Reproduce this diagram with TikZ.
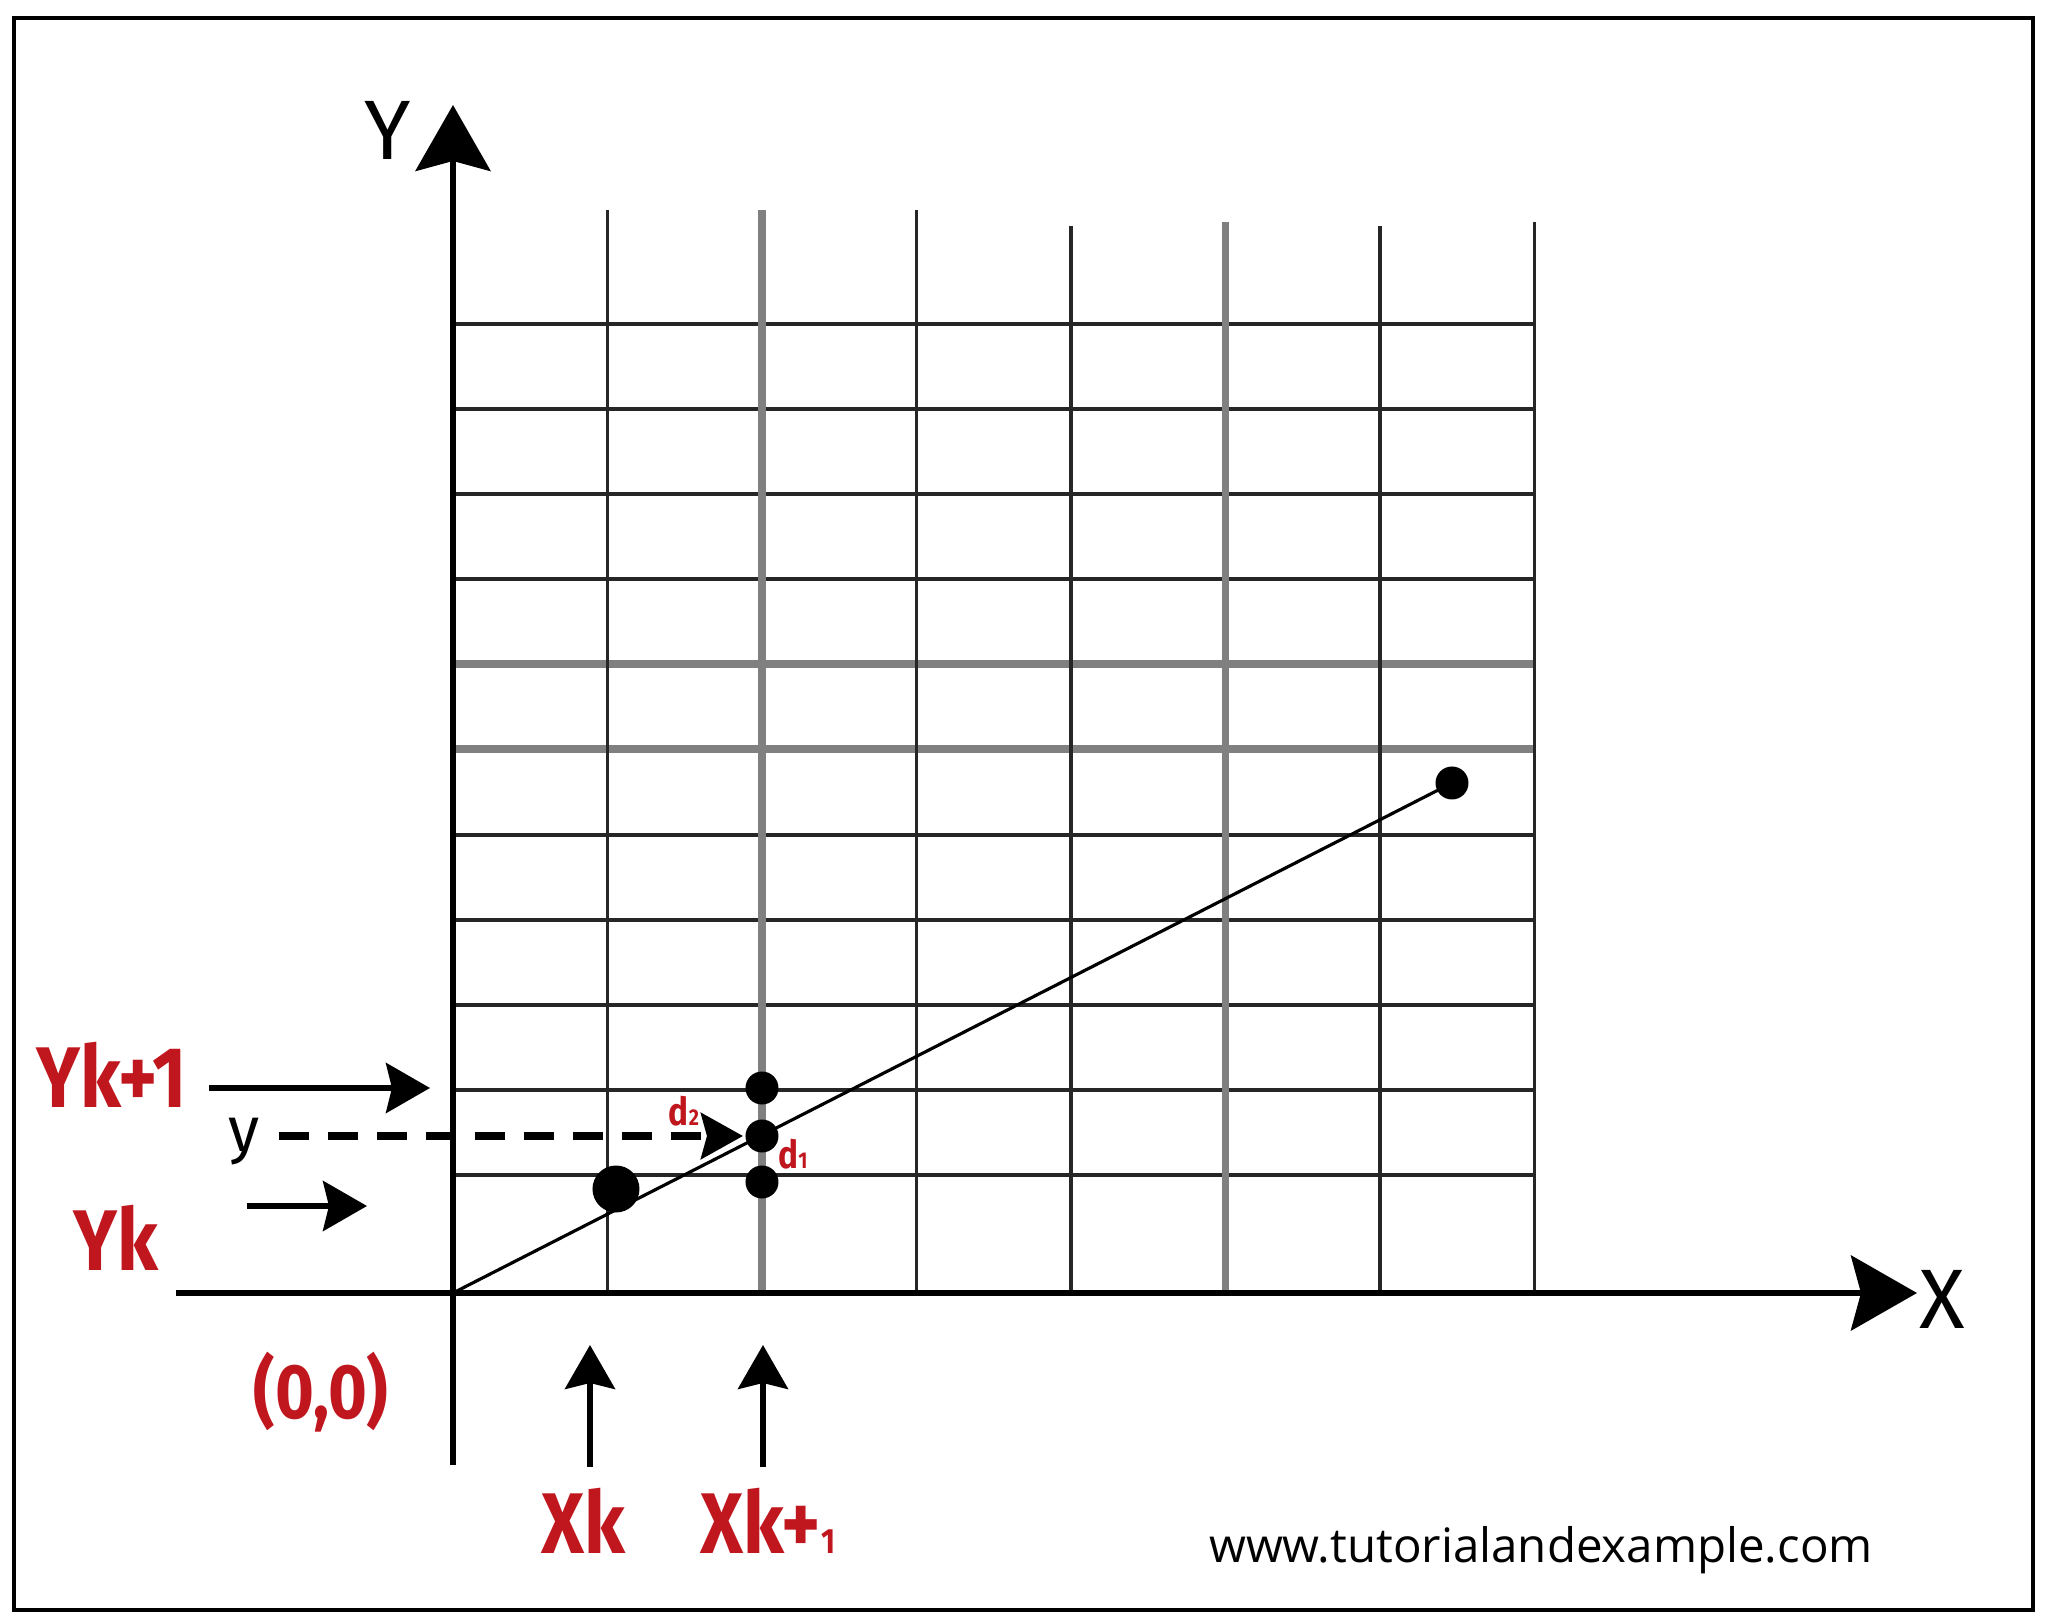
\documentclass[tikz,border=0pt]{standalone}
\usepackage{fontspec}
\setmainfont{Fira Sans}
\newfontfamily\labelfont[FakeStretch=0.86]{Fira Sans}
\newfontfamily\urlfont{Open Sans}
\usetikzlibrary{arrows.meta}
\definecolor{labelred}{RGB}{192,22,30}
\newcommand{\smallsub}[1]{{\fontsize{10}{10}\selectfont #1}}
\newcommand{\tinysub}[1]{{\fontsize{6.5}{6.5}\selectfont #1}}

\tikzset{
    axis/.style={line width=1.6pt, -{Stealth[length=6.6mm, width=7.5mm, inset=1mm]}},
    gridline/.style={line width=1.1pt, black!85},
    gridsoft/.style={line width=2pt, black!50},
    pointer/.style={line width=1.6pt, -{Stealth[length=4.4mm, width=5mm, inset=0.6mm]}},
    redlabel/.style={text=labelred, inner sep=0pt, anchor=base, font=\labelfont\bfseries\fontsize{24.5}{24.5}\selectfont},
    dlabel/.style={text=labelred, inner sep=0pt, anchor=base, font=\labelfont\bfseries\fontsize{11}{11}\selectfont},
    axislabel/.style={inner sep=0pt, anchor=base, font=\fontsize{24}{24}\selectfont},
    pixel/.style={circle, fill=black, inner sep=0pt, minimum size=#1},
}

\begin{document}
\begin{tikzpicture}

    \useasboundingbox (-4.53, -3.28) rectangle (15.95, 12.93);
    \draw[line width=1.1pt] (-4.39, -3.17) rectangle (15.80, 12.75);

    % grid
    \foreach \y in {1.18, 2.03, 2.88, 3.73, 4.58, 7.14, 7.99, 8.84, 9.69}
        \draw[gridline] (0, \y) -- (10.815, \y);
    \foreach \y in {5.44, 6.29}
        \draw[gridsoft] (0, \y) -- (10.815, \y);
    \foreach \x/\top in {1.545/10.83, 4.635/10.83, 6.18/10.67, 9.27/10.67, 10.815/10.71}
        \draw[gridline] (\x, 0) -- (\x, \top);
    \foreach \x/\top in {3.09/10.83, 7.725/10.71}
        \draw[gridsoft] (\x, 0) -- (\x, \top);

    % axes
    \coordinate (origin) at (0, 0);
    \coordinate (yfoot) at (0, -1.72);
    \coordinate (ytip) at (0, 11.88);
    \coordinate (xfoot) at (-2.77, 0);
    \coordinate (xtip) at (14.64, 0);
    \draw[axis] (yfoot) -- (ytip);
    \draw[axis] (xfoot) -- (xtip);
    \node[axislabel] (ylabel) at (-0.65, 11.33) {Y};
    \node[axislabel] (xlabel) at (14.89, -0.35) {X};

    % line and pixels
    \node[pixel=3.3mm] (endpix) at (9.99, 5.10) {};
    \draw[line width=0.9pt] (origin) -- (endpix.center);
    \node[pixel=4.7mm] (startpix) at (1.63, 1.04) {};
    \node[pixel=3.3mm] (upperpix) at (3.09, 2.05) {};
    \node[pixel=3.3mm] (truepix) at (3.09, 1.57) {};
    \node[pixel=3.3mm] (lowerpix) at (3.09, 1.11) {};
    \node[dlabel] (dtwo) at (2.31, 1.68) {d\tinysub{2}};
    \node[dlabel] (done) at (3.40, 1.25) {d\tinysub{1}};

    % labels on the left
    \node[redlabel] (yknext) at (-3.41, 1.85) {Yk+1};
    \coordinate (yknextfrom) at (-2.44, 2.05);
    \coordinate (yknextto) at (-0.23, 2.05);
    \draw[pointer] (yknextfrom) -- (yknextto);

    \node[axislabel, font=\fontsize{18}{18}\selectfont] (ylow) at (-2.09, 1.42) {y};
    \coordinate (yfrom) at (-1.74, 1.57);
    \coordinate (yto) at (2.90, 1.57);
    \draw[line width=2pt, dash pattern=on 3mm off 1.9mm, -{Stealth[length=4.2mm, width=4.6mm, inset=0.6mm]}] (yfrom) -- (yto);

    \node[redlabel] (yk) at (-3.37, 0.23) {Yk};
    \coordinate (ykfrom) at (-2.06, 0.87);
    \coordinate (ykto) at (-0.86, 0.87);
    \draw[pointer] (ykfrom) -- (ykto);

    \node[redlabel, font=\labelfont\bfseries\fontsize{22}{22}\selectfont] (zero) at (-1.32, -1.25) {(0,0)};

    % labels below
    \coordinate (xkfrom) at (1.37, -1.74);
    \coordinate (xkto) at (1.37, -0.52);
    \draw[pointer] (xkfrom) -- (xkto);
    \coordinate (xknextfrom) at (3.10, -1.74);
    \coordinate (xknextto) at (3.10, -0.52);
    \draw[pointer] (xknextfrom) -- (xknextto);
    \node[redlabel] (xk) at (1.30, -2.60) {Xk};
    \node[redlabel] (xknext) at (3.15, -2.60) {Xk+\smallsub{1}};

    \node[inner sep=0pt, anchor=base, font=\urlfont\fontsize{13.5}{13.5}\selectfont] (site) at (10.88, -2.69) {www.tutorialandexample.com};

\end{tikzpicture}
\end{document}
